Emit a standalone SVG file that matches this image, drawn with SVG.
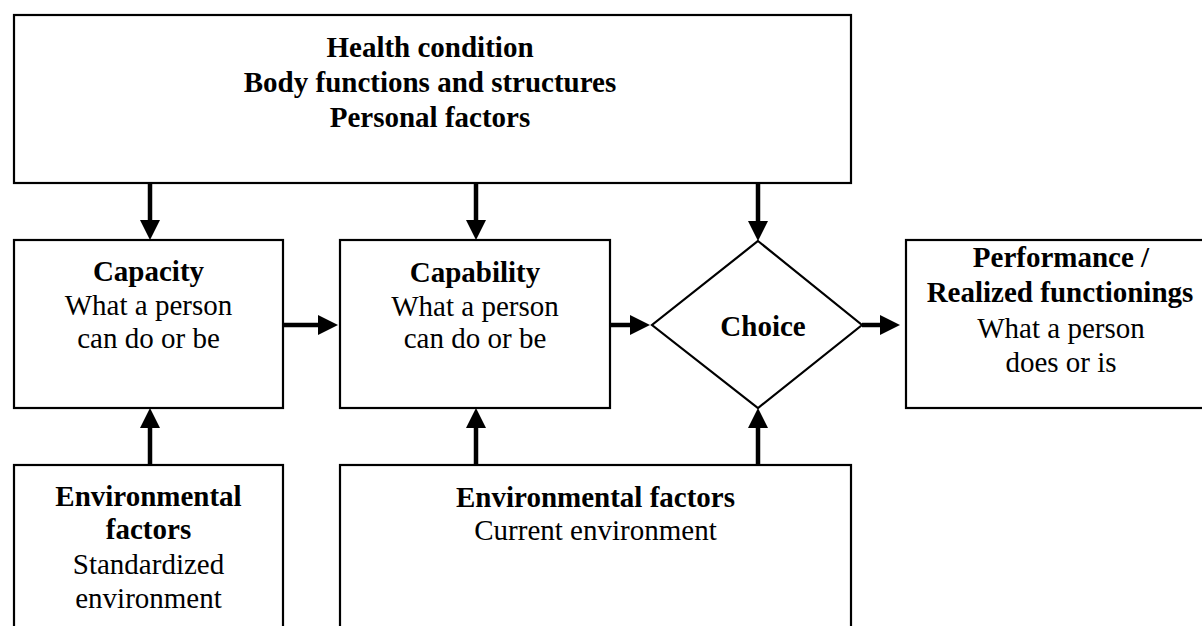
<svg xmlns="http://www.w3.org/2000/svg" width="1202" height="626" viewBox="0 0 1202 626">
<style>
.box{fill:#fff;stroke:#000;stroke-width:2.2}
.t{font-family:"Liberation Serif","Times New Roman",serif;font-size:29px;fill:#000;text-anchor:middle}
.b{font-weight:bold}
.sh{stroke:#000;stroke-width:4.5;fill:none}
.hd{fill:#000}
</style>
<rect width="1202" height="626" fill="#fff"/>
<g id="health">
<rect class="box" x="14" y="15" width="837" height="168"/>
<text class="t b" x="430" y="57">Health condition</text>
<text class="t b" x="430" y="92">Body functions and structures</text>
<text class="t b" x="430" y="127">Personal factors</text>
</g>
<g id="capacity">
<rect class="box" x="14" y="240" width="269" height="168"/>
<text class="t b" x="148.5" y="281">Capacity</text>
<text class="t" x="148.5" y="315">What a person</text>
<text class="t" x="148.5" y="348">can do or be</text>
</g>
<g id="capability">
<rect class="box" x="340" y="240" width="270" height="168"/>
<text class="t b" x="475" y="282">Capability</text>
<text class="t" x="475" y="316">What a person</text>
<text class="t" x="475" y="348">can do or be</text>
</g>
<g id="choice">
<polygon class="box" points="758,241 862,325 758,408 652,325"/>
<text class="t b" x="763" y="336">Choice</text>
</g>
<g id="performance">
<rect class="box" x="906" y="240" width="310" height="168"/>
<text class="t b" x="1061" y="267">Performance /</text>
<text class="t b" x="1060" y="302">Realized functionings</text>
<text class="t" x="1061" y="338">What a person</text>
<text class="t" x="1061" y="372">does or is</text>
</g>
<g id="env-standard">
<rect class="box" x="14" y="465" width="269" height="180"/>
<text class="t b" x="148.5" y="506">Environmental</text>
<text class="t b" x="148.5" y="539">factors</text>
<text class="t" x="148.5" y="574">Standardized</text>
<text class="t" x="148.5" y="608">environment</text>
</g>
<g id="env-current">
<rect class="box" x="340" y="465" width="511" height="180"/>
<text class="t b" x="595.5" y="507">Environmental factors</text>
<text class="t" x="595.5" y="540">Current environment</text>
</g>
<g id="connectors">
<line class="sh" x1="150" y1="183" x2="150" y2="224"/>
<polygon class="hd" points="140,220 160,220 150,240"/>
<line class="sh" x1="476" y1="183" x2="476" y2="224"/>
<polygon class="hd" points="466,220 486,220 476,240"/>
<line class="sh" x1="758" y1="183" x2="758" y2="225"/>
<polygon class="hd" points="748,221 768,221 758,241"/>
<line class="sh" x1="283" y1="325" x2="322" y2="325"/>
<polygon class="hd" points="318,315 318,335 338,325"/>
<line class="sh" x1="610" y1="325" x2="634" y2="325"/>
<polygon class="hd" points="630,315 630,335 650,325"/>
<line class="sh" x1="862" y1="325" x2="884" y2="325"/>
<polygon class="hd" points="880,315 880,335 900,325"/>
<line class="sh" x1="150" y1="465" x2="150" y2="424"/>
<polygon class="hd" points="140,428 160,428 150,408"/>
<line class="sh" x1="476" y1="465" x2="476" y2="424"/>
<polygon class="hd" points="466,428 486,428 476,408"/>
<line class="sh" x1="758" y1="465" x2="758" y2="424"/>
<polygon class="hd" points="748,428 768,428 758,408"/>
</g>
</svg>
